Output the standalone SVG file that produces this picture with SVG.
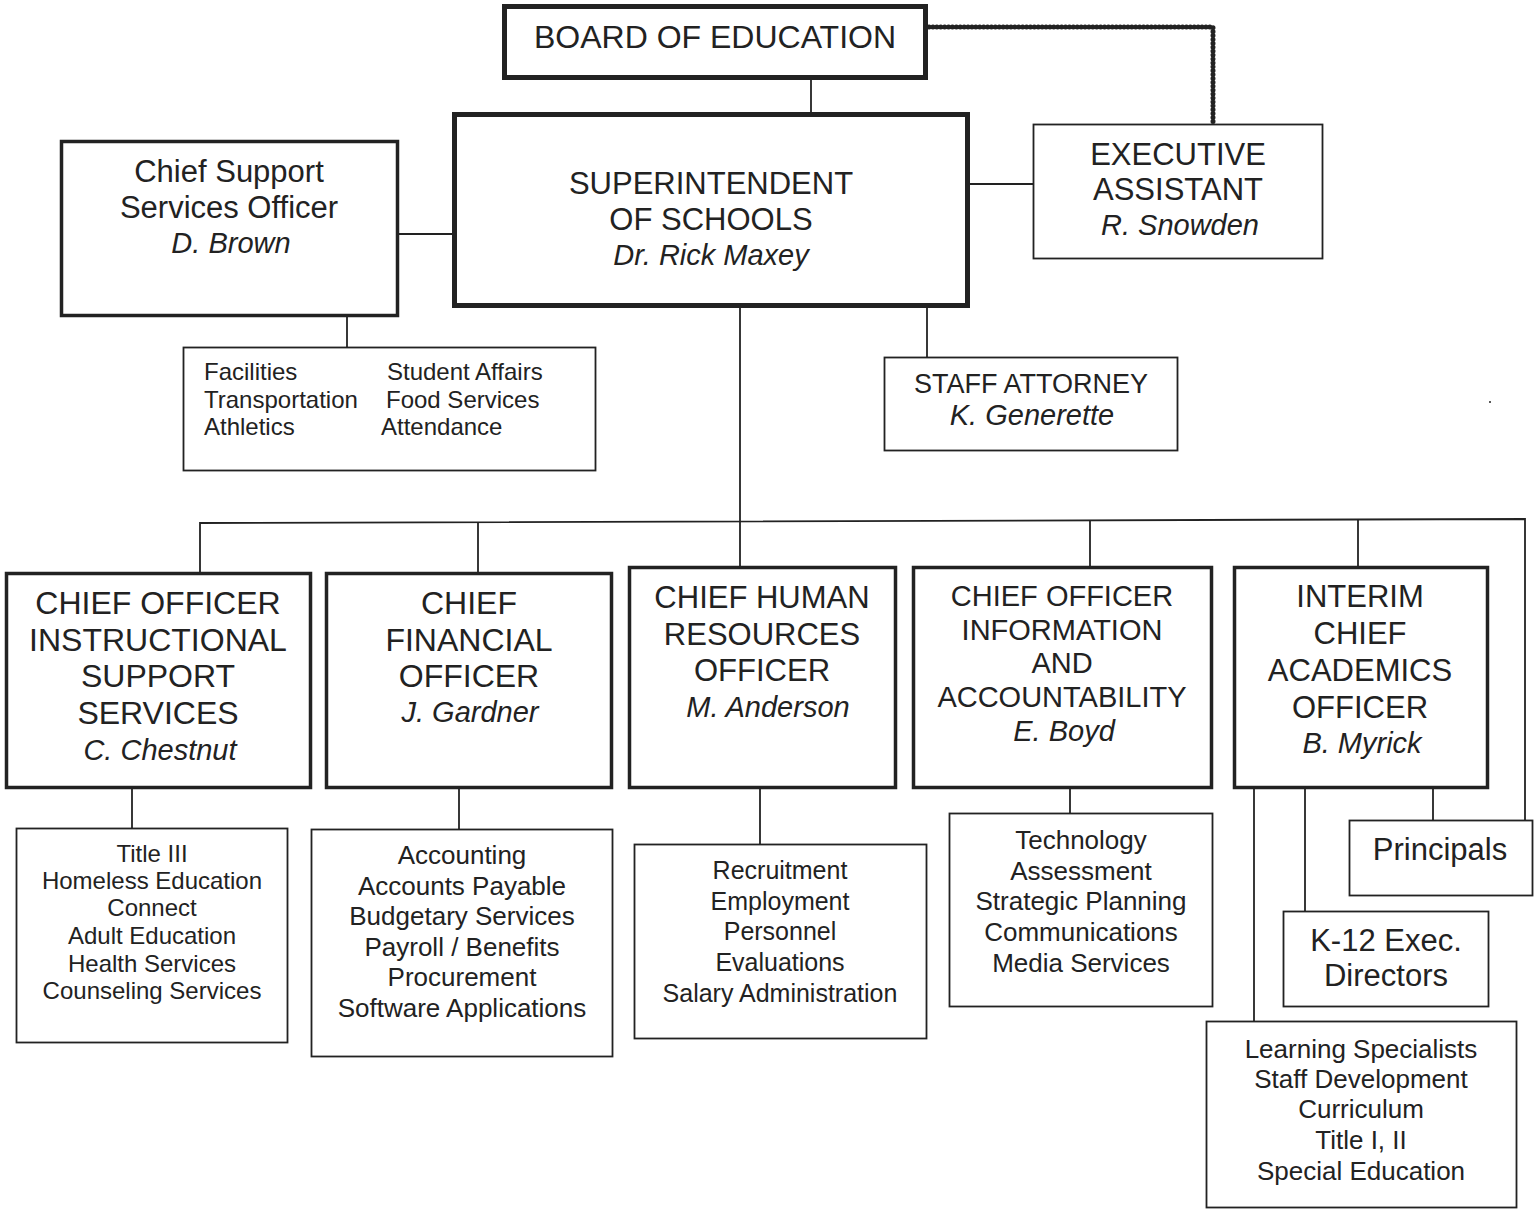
<svg xmlns="http://www.w3.org/2000/svg" width="1538" height="1210" viewBox="0 0 1538 1210">
<style>
text{font-family:"Liberation Sans",Arial,sans-serif;fill:#222;text-anchor:middle}
.t32{font-size:32px}.t31{font-size:31px}.t29{font-size:29px}.t27{font-size:27px}.t26{font-size:26px}.t25{font-size:25px}.t24{font-size:24px}
.i{font-style:italic}
.l{text-anchor:start}
.b5{fill:#fff;stroke:#222;stroke-width:5}
.b4{fill:#fff;stroke:#222;stroke-width:3.5}
.b2{fill:#fff;stroke:#222;stroke-width:1.8}
.c{fill:none;stroke:#222;stroke-width:1.8}
.dot{fill:none;stroke:#222;stroke-width:5;stroke-linecap:round;stroke-dasharray:0.1 3.8}
</style>
<rect width="1538" height="1210" fill="#fff"/>
<g id="connectors">
<path class="dot" d="M929 27 H1213 V123"/>
<path class="c" d="M811 80 V114"/>
<path class="c" d="M970 184 H1033"/>
<path class="c" d="M399 234 H454"/>
<path class="c" d="M347 317 V347"/>
<path class="c" d="M740 308 V566"/>
<path class="c" d="M927 308 V357"/>
<path class="c" d="M200 572 V523 L1525 519 V820"/>
<path class="c" d="M478 522 V572"/>
<path class="c" d="M1090 520 V566"/>
<path class="c" d="M1358 519 V566"/>
<path class="c" d="M132 789 V828"/>
<path class="c" d="M459 789 V829"/>
<path class="c" d="M760 789 V844"/>
<path class="c" d="M1070 789 V813"/>
<path class="c" d="M1254 789 V1021"/>
<path class="c" d="M1305 789 V911"/>
<path class="c" d="M1433 789 V820"/>
</g>
<g id="board">
<rect class="b5" x="504.5" y="6.5" width="421" height="71"/>
<text class="t32" x="715" y="48">BOARD OF EDUCATION</text>
</g>
<g id="superintendent">
<rect class="b5" x="454.5" y="114.5" width="513" height="191"/>
<text class="t31" x="711" y="194">SUPERINTENDENT</text>
<text class="t31" x="711" y="230">OF SCHOOLS</text>
<text class="t29 i" x="711" y="265">Dr. Rick Maxey</text>
</g>
<g id="exec-assistant">
<rect class="b2" x="1033.5" y="124.5" width="289" height="134"/>
<text class="t31" x="1178" y="165">EXECUTIVE</text>
<text class="t31" x="1178" y="200">ASSISTANT</text>
<text class="t29 i" x="1180" y="235">R. Snowden</text>
</g>
<g id="chief-support">
<rect class="b4" x="61.5" y="141.5" width="336" height="174"/>
<text class="t31" x="229" y="182">Chief Support</text>
<text class="t31" x="229" y="218">Services Officer</text>
<text class="t29 i" x="231" y="253">D. Brown</text>
</g>
<g id="support-services">
<rect class="b2" x="183.5" y="347.5" width="412" height="123"/>
<text class="t24 l" x="204" y="380">Facilities</text>
<text class="t24 l" x="204" y="408">Transportation</text>
<text class="t24 l" x="204" y="435">Athletics</text>
<text class="t24 l" x="387" y="380">Student Affairs</text>
<text class="t24 l" x="386" y="408">Food Services</text>
<text class="t24 l" x="381" y="435">Attendance</text>
</g>
<g id="staff-attorney">
<rect class="b2" x="884.5" y="357.5" width="293" height="93"/>
<text class="t27" x="1031" y="393">STAFF ATTORNEY</text>
<text class="t29 i" x="1032" y="425">K. Generette</text>
</g>
<circle cx="1490" cy="402" r="1" fill="#222"/>
<g id="co-iss">
<rect class="b4" x="6.5" y="573.5" width="304" height="214"/>
<text class="t32" x="158" y="614">CHIEF OFFICER</text>
<text class="t32" x="158" y="651">INSTRUCTIONAL</text>
<text class="t32" x="158" y="687">SUPPORT</text>
<text class="t32" x="158" y="724">SERVICES</text>
<text class="t29 i" x="160" y="760">C. Chestnut</text>
</g>
<g id="cfo">
<rect class="b4" x="326.5" y="573.5" width="285" height="214"/>
<text class="t32" x="469" y="614">CHIEF</text>
<text class="t32" x="469" y="651">FINANCIAL</text>
<text class="t32" x="469" y="687">OFFICER</text>
<text class="t29 i" x="470" y="722">J. Gardner</text>
</g>
<g id="chro">
<rect class="b4" x="629.5" y="567.5" width="266" height="220"/>
<text class="t31" x="762" y="608">CHIEF HUMAN</text>
<text class="t31" x="762" y="645">RESOURCES</text>
<text class="t31" x="762" y="681">OFFICER</text>
<text class="t29 i" x="768" y="717">M. Anderson</text>
</g>
<g id="co-ia">
<rect class="b4" x="913.5" y="567.5" width="298" height="220"/>
<text class="t29" x="1062" y="606">CHIEF OFFICER</text>
<text class="t29" x="1062" y="640">INFORMATION</text>
<text class="t29" x="1062" y="673">AND</text>
<text class="t29" x="1062" y="707">ACCOUNTABILITY</text>
<text class="t29 i" x="1064" y="741">E. Boyd</text>
</g>
<g id="interim-cao">
<rect class="b4" x="1234.5" y="567.5" width="253" height="220"/>
<text class="t31" x="1360" y="607">INTERIM</text>
<text class="t31" x="1360" y="644">CHIEF</text>
<text class="t31" x="1360" y="681">ACADEMICS</text>
<text class="t31" x="1360" y="718">OFFICER</text>
<text class="t29 i" x="1362" y="753">B. Myrick</text>
</g>
<g id="iss-services">
<rect class="b2" x="16.5" y="828.5" width="271" height="214"/>
<text class="t24" x="152" y="862">Title III</text>
<text class="t24" x="152" y="889">Homeless Education</text>
<text class="t24" x="152" y="916">Connect</text>
<text class="t24" x="152" y="944">Adult Education</text>
<text class="t24" x="152" y="972">Health Services</text>
<text class="t24" x="152" y="999">Counseling Services</text>
</g>
<g id="finance-services">
<rect class="b2" x="311.5" y="829.5" width="301" height="227"/>
<text class="t26" x="462" y="864">Accounting</text>
<text class="t26" x="462" y="895">Accounts Payable</text>
<text class="t26" x="462" y="925">Budgetary Services</text>
<text class="t26" x="462" y="956">Payroll / Benefits</text>
<text class="t26" x="462" y="986">Procurement</text>
<text class="t26" x="462" y="1017">Software Applications</text>
</g>
<g id="hr-services">
<rect class="b2" x="634.5" y="844.5" width="292" height="194"/>
<text class="t25" x="780" y="879">Recruitment</text>
<text class="t25" x="780" y="910">Employment</text>
<text class="t25" x="780" y="940">Personnel</text>
<text class="t25" x="780" y="971">Evaluations</text>
<text class="t25" x="780" y="1002">Salary Administration</text>
</g>
<g id="ia-services">
<rect class="b2" x="949.5" y="813.5" width="263" height="193"/>
<text class="t26" x="1081" y="849">Technology</text>
<text class="t26" x="1081" y="880">Assessment</text>
<text class="t26" x="1081" y="910">Strategic Planning</text>
<text class="t26" x="1081" y="941">Communications</text>
<text class="t26" x="1081" y="972">Media Services</text>
</g>
<g id="principals">
<rect class="b2" x="1349.5" y="820.5" width="183" height="75"/>
<text class="t31" x="1440" y="860">Principals</text>
</g>
<g id="k12">
<rect class="b2" x="1283.5" y="911.5" width="205" height="95"/>
<text class="t31" x="1386" y="951">K-12 Exec.</text>
<text class="t31" x="1386" y="986">Directors</text>
</g>
<g id="academic-services">
<rect class="b2" x="1206.5" y="1021.5" width="310" height="186"/>
<text class="t26" x="1361" y="1058">Learning Specialists</text>
<text class="t26" x="1361" y="1088">Staff Development</text>
<text class="t26" x="1361" y="1118">Curriculum</text>
<text class="t26" x="1361" y="1149">Title I, II</text>
<text class="t26" x="1361" y="1180">Special Education</text>
</g>
</svg>
